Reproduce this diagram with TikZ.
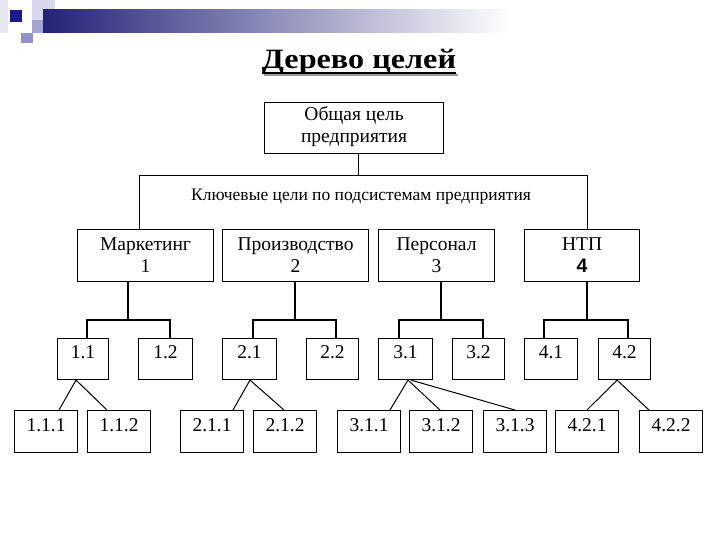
\documentclass[tikz,border=0pt]{standalone}
\usepackage{fontspec}
\setmainfont{Liberation Serif}
\newfontfamily\sansbf{Liberation Sans}
\usetikzlibrary{calc}
\definecolor{decdark}{HTML}{1A1A8C}
\definecolor{decbar}{HTML}{222278}
\definecolor{decpale}{HTML}{D8D8EC}
\definecolor{decpale2}{HTML}{E6E6F0}
\definecolor{decmid}{HTML}{A4A4D4}
\definecolor{decmid2}{HTML}{9292C8}
\begin{document}
\begin{tikzpicture}[x=1bp,y=-1bp,
  box/.style={draw=black, line width=1.1bp, inner sep=0pt, anchor=north west},
  lbl/.style={inner sep=0pt, align=center, font=\fontsize{19.5bp}{22bp}\selectfont},
  numl/.style={inner sep=0pt, font=\fontsize{19.5bp}{22bp}\selectfont},
  conn/.style={draw=black, line width=1.5bp},
  thinc/.style={draw=black, line width=1bp}]
\useasboundingbox[fill=white] (0,0) rectangle (720,540);

% decoration
\fill[decpale2] (0,0) rectangle (8,33);
\fill[decpale] (32,0) rectangle (55,20);
\shade[left color=decbar, right color=white] (43,10) rectangle (510,33);
\fill[decmid] (32,20) rectangle (43,33);
\fill[decdark] (10,10) rectangle (22,22);
\fill[decmid2] (21,33) rectangle (33,43);

% title
\node[inner sep=0pt, anchor=base, font=\fontsize{28bp}{32bp}\selectfont\bfseries] (tit) at (359,69) {\scalebox{1.15}[1]{Дерево целей}};
\draw[black!40, line width=1.8bp] ($(tit.base west)+(2,6)$) -- ($(tit.base east)+(2,6)$);
\draw[black, line width=1.8bp] ($(tit.base west)+(0,4)$) -- ($(tit.base east)+(0,4)$);

% top box
\node[box, minimum width=179bp, minimum height=51bp] (top) at (264,102) {};
\node[lbl] (topt) at ($(top.center)+(0,-1)$) {Общая цель\\предприятия};

% level 1
\node[box, minimum width=136bp, minimum height=52bp] (m1) at (77,229) {};
\node[box, minimum width=146bp, minimum height=52bp] (m2) at (222,229) {};
\node[box, minimum width=116bp, minimum height=52bp] (m3) at (378,229) {};
\node[box, minimum width=115bp, minimum height=52bp] (m4) at (524,229) {};
\node[lbl] (m1t) at (m1.center) {Маркетинг\\1};
\node[lbl] (m2t) at (m2.center) {Производство\\2};
\node[lbl] (m3t) at (m3.center) {Персонал\\3};
\node[lbl] (m4t) at (m4.center) {НТП\\{\sansbf\bfseries 4}};

% frame with key goals
\coordinate (fl) at (139,176);
\coordinate (fr) at (587,176);
\draw[thinc] (m1.north -| fl) -- (fl) -- (fr) -- (m4.north -| fr);
\draw[thinc] (top.south -| 358,0) -- (358,176);
\node[inner sep=0pt, font=\fontsize{17.5bp}{20bp}\selectfont] (keyt) at (361,197) {Ключевые цели по подсистемам предприятия};

% level 2
\foreach \n/\x/\w/\t in {n11/57/51/1.1, n12/138/54/1.2, n21/222/54/2.1, n22/306/52/2.2,
                         n31/378/54/3.1, n32/452/52/3.2, n41/524/53/4.1, n42/598/52/4.2} {
  \node[box, minimum width=\w bp, minimum height=41bp] (\n) at (\x,338) {};
  \node[numl] (\n-t) at ($(\n.north)+(0,14)$) {\t};
}

% level 3
\foreach \n/\x/\t in {p111/14/1.1.1, p112/87/1.1.2, p211/180/2.1.1, p212/253/2.1.2,
                      p311/337/3.1.1, p312/409/3.1.2, p313/483/3.1.3, p421/555/4.2.1, p422/639/4.2.2} {
  \node[box, minimum width=63bp, minimum height=42bp] (\n) at (\x,410) {};
  \node[numl] (\n-t) at ($(\n.north)+(0,15)$) {\t};
}

% level 1 -> level 2 connectors
\coordinate (j1) at (128,320);
\coordinate (j2) at (295,320);
\coordinate (j3) at (441,320);
\coordinate (j4) at (587,320);
\draw[conn] (m1.south -| j1) -- (j1);
\draw[conn] ($(n11.north west)+(30,0)$) |- (j1) -| ($(n12.north west)+(32,0)$);
\draw[conn] (m2.south -| j2) -- (j2);
\draw[conn] ($(n21.north west)+(31,0)$) |- (j2) -| ($(n22.north west)+(30,0)$);
\draw[conn] (m3.south -| j3) -- (j3);
\draw[conn] ($(n31.north west)+(21,0)$) |- (j3) -| ($(n32.north west)+(31,0)$);
\draw[conn] (m4.south -| j4) -- (j4);
\draw[conn] ($(n41.north west)+(20,0)$) |- (j4) -| ($(n42.north west)+(30,0)$);

% level 2 -> level 3 connectors
\draw[thinc] ($(p111.north west)+(45,0)$) -- ($(n11.south west)+(19,0)$) -- ($(p112.north west)+(20,0)$);
\draw[thinc] ($(p211.north west)+(53,0)$) -- ($(n21.south west)+(28,0)$) -- ($(p212.north west)+(31,0)$);
\draw[thinc] ($(p311.north west)+(53,0)$) -- ($(n31.south west)+(30,0)$) -- ($(p312.north west)+(31,0)$);
\draw[thinc] ($(n31.south west)+(33,0)$) -- ($(p313.north west)+(32,0)$);
\draw[thinc] ($(p421.north west)+(32,0)$) -- ($(n42.south west)+(19,0)$) -- ($(p422.north west)+(10,0)$);
\end{tikzpicture}
\end{document}
